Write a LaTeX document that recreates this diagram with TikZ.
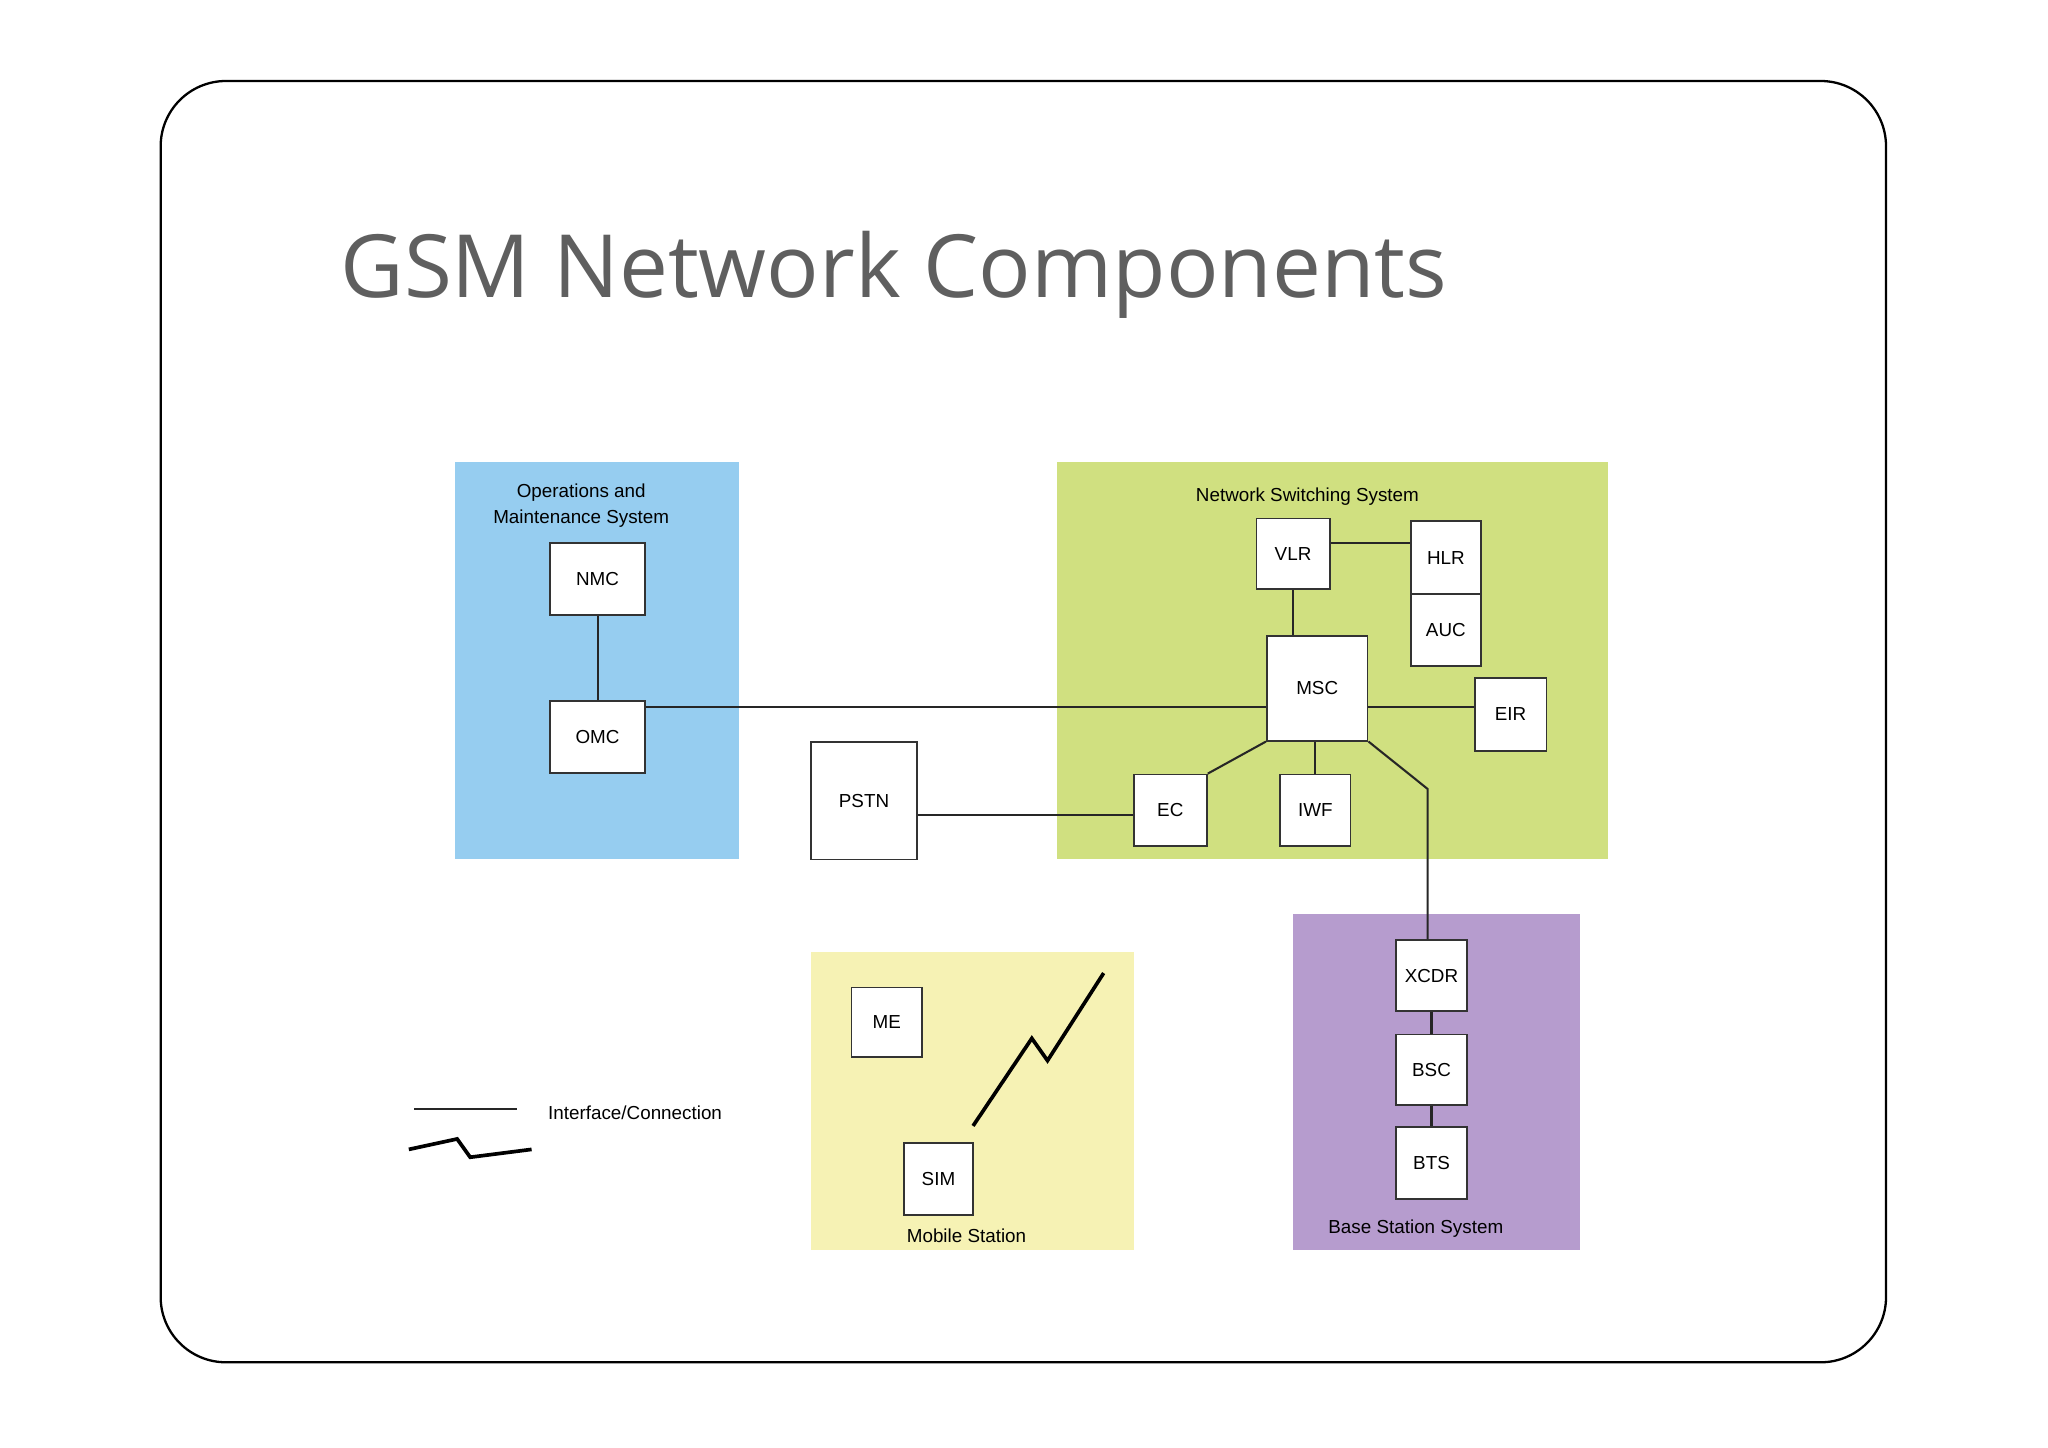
\documentclass[tikz,border=0pt]{standalone}
\usepackage{fontspec}
\setmainfont{Liberation Sans}
\newfontfamily\titlefont{Open Sans}
\definecolor{omsblue}{RGB}{150,205,240}
\definecolor{nssgreen}{RGB}{208,224,128}
\definecolor{bsspurple}{RGB}{182,156,206}
\definecolor{msyellow}{RGB}{246,242,180}
\definecolor{titlegray}{RGB}{95,95,95}
\begin{document}
\begin{tikzpicture}[x=0.01cm,y=-0.01cm,
    box/.style={draw=black!80,fill=white,inner sep=0pt,font=\fontsize{4.1}{5}\selectfont},
    lbl/.style={font=\fontsize{4.1}{5.6}\selectfont,align=center,inner sep=0pt},
    link/.style={draw=black!85,line width=0.45pt}]
  \useasboundingbox (0,0) rectangle (1568,1108);
  \draw[rounded corners=0.5cm,line width=0.5pt] (123,62) rectangle (1444,1043);
  \node[anchor=base west,inner sep=0pt,text=titlegray,font=\titlefont\fontsize{19}{23}\selectfont] (title) at (260,228) {GSM Network Components};

  % groups
  \fill[omsblue] (348,354) rectangle (566,658);
  \fill[nssgreen] (809,354) rectangle (1231,658);
  \fill[bsspurple] (990,700) rectangle (1210,957);
  \fill[msyellow] (621,729) rectangle (868,957);
  \node[lbl] (omsl) at (445,387) {Operations and\\Maintenance System};
  \node[lbl] (nssl) at (1001,380) {Network Switching System};
  \node[lbl] (bssl) at (1084,941) {Base Station System};
  \node[lbl] (msl) at (740,946) {Mobile Station};

  % components
  \node[box,minimum width=0.73cm,minimum height=0.55cm] (nmc) at (457.5,443.5) {NMC};
  \node[box,minimum width=0.73cm,minimum height=0.55cm] (omc) at (457.5,564.5) {OMC};
  \node[box,minimum width=0.81cm,minimum height=0.90cm] (pstn) at (661.5,613) {PSTN};
  \node[box,minimum width=0.56cm,minimum height=0.54cm] (vlr) at (990,424) {VLR};
  \node[box,minimum width=0.54cm,minimum height=0.56cm] (hlr) at (1107,427) {HLR};
  \node[box,minimum width=0.54cm,minimum height=0.55cm] (auc) at (1107,482.5) {AUC};
  \node[box,minimum width=0.77cm,minimum height=0.80cm] (msc) at (1008.5,527) {MSC};
  \node[box,minimum width=0.55cm,minimum height=0.56cm] (eir) at (1156.5,547) {EIR};
  \node[box,minimum width=0.56cm,minimum height=0.55cm] (ec) at (896,620.5) {EC};
  \node[box,minimum width=0.54cm,minimum height=0.55cm] (iwf) at (1007,620.5) {IWF};
  \node[box,minimum width=0.54cm,minimum height=0.54cm] (xcdr) at (1096,747) {XCDR};
  \node[box,minimum width=0.54cm,minimum height=0.54cm] (bsc) at (1096,819) {BSC};
  \node[box,minimum width=0.54cm,minimum height=0.55cm] (bts) at (1096,890.5) {BTS};
  \node[box,minimum width=0.54cm,minimum height=0.53cm] (me) at (679,782.5) {ME};
  \node[box,minimum width=0.53cm,minimum height=0.55cm] (sim) at (718.5,902.5) {SIM};

  % connections
  \draw[link] (nmc) -- (omc);
  \draw[link] (omc.east |- 0,541) -- (msc.west |- 0,541);
  \draw[link] (pstn.east |- 0,624) -- (ec.west |- 0,624);
  \draw[link] (vlr) -- (vlr |- msc.north);
  \draw[link] (vlr.east |- 0,416) -- (hlr.west |- 0,416);
  \draw[link] (msc.east |- 0,541) -- (eir.west |- 0,541);
  \draw[link] (msc.south west) -- (ec.north east);
  \draw[link] (iwf) -- (iwf |- msc.south);
  \coordinate (bend) at (1093,604);
  \draw[link] (msc.south east) -- (bend) -- (bend |- xcdr.north);
  \draw[link] (xcdr) -- (bsc);
  \draw[link] (bsc) -- (bts);

  % radio link
  \coordinate (z1) at (745,862); \coordinate (z2) at (790,795);
  \coordinate (z3) at (802,812); \coordinate (z4) at (845,745);
  \draw[line width=0.8pt,line join=miter] (z1) -- (z2) -- (z3) -- (z4);

  % legend
  \coordinate (l1) at (317,849); \coordinate (l2) at (396,849);
  \draw[link] (l1) -- (l2);
  \coordinate (m1) at (313,880); \coordinate (m2) at (350,872);
  \coordinate (m3) at (360,886); \coordinate (m4) at (407,880);
  \draw[line width=0.8pt] (m1) -- (m2) -- (m3) -- (m4);
  \node[lbl,anchor=west] (legl) at (419,852) {Interface/Connection};
\end{tikzpicture}
\end{document}
